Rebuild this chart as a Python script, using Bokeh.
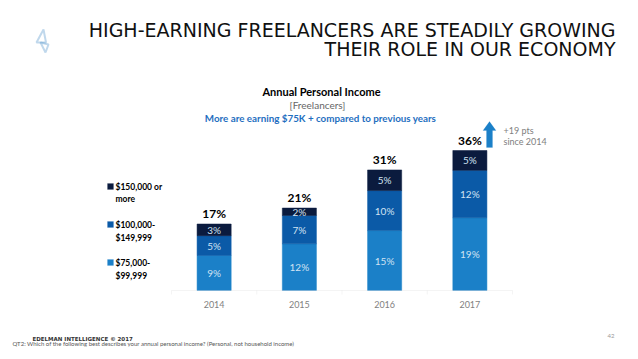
from bokeh.plotting import figure
from bokeh.models import (Range1d, FixedTicker, Label, LabelSet, ColumnDataSource, PolyAnnotation)
from bokeh.core.properties import value
from bokeh.embed import file_html
from bokeh.resources import INLINE

# ---------------- data ----------------
years = ["2014", "2015", "2016", "2017"]
band_75k = [9.0, 12.0, 15.4, 18.7]      # $75,000-$99,999
band_100k = [5.1, 7.3, 10.3, 12.2]      # $100,000-$149,999
band_150k = [3.0, 1.9, 5.3, 5.1]        # $150,000 or more
label_75k = ["9%", "12%", "15%", "19%"]
label_100k = ["5%", "7%", "10%", "12%"]
label_150k = ["3%", "2%", "5%", "5%"]
total_labels = ["17%", "21%", "31%", "36%"]
legend_lines = [["$150,000 or", "more"], ["$100,000-", "$149,999"], ["$75,000-", "$99,999"]]
series = ["b75", "b100", "b150"]
colors = ["#1b80c8", "#0b5aa7", "#0b1b3e"]

# ---------------- layout constants ----------------
W, H = 638, 359
AXIS_PANEL = 13                 # reserved strip below the frame for the axis panel
HF = H - AXIS_PANEL             # frame height (frame spans the rest of the canvas)
AX_LEFT, AX_RIGHT = 171, 512    # pixel extent of the category axis
BASE = 290                      # pixel y of the baseline
PX = 140 / 36                   # pixels per percentage point
CAT = (AX_RIGHT - AX_LEFT) / len(years)

x_range = Range1d(-AX_LEFT / CAT, (W - AX_LEFT) / CAT)
y_range = Range1d(-(HF - BASE) / PX, BASE / PX)

p = figure(width=W, height=H, x_range=x_range, y_range=y_range,
           output_backend="svg", toolbar_location=None,
           min_border_left=0, min_border_right=0, min_border_top=0,
           min_border_bottom=AXIS_PANEL, y_axis_location=None)
p.outline_line_color = None
p.grid.visible = False
p.background_fill_color = "white"
p.border_fill_color = "white"

xpos = [i + 0.5 for i in range(len(years))]
src = ColumnDataSource(dict(x=xpos, b75=band_75k, b100=band_100k, b150=band_150k))
p.vbar_stack(series, x="x", width=0.4, color=colors, source=src, line_width=0.5)

# segment labels
seg_x, seg_y, seg_t = [], [], []
for i in range(len(years)):
    a, b, c = band_75k[i], band_100k[i], band_150k[i]
    seg_x += [xpos[i]] * 3
    seg_y += [a / 2, a + b / 2, a + b + c / 2]
    seg_t += [label_75k[i], label_100k[i], label_150k[i]]
seg_src = ColumnDataSource(dict(x=seg_x, y=seg_y, t=seg_t))
p.add_layout(LabelSet(x="x", y="y", text="t", source=seg_src, text_align="center",
                      text_baseline="middle", text_color="#d2e3f3",
                      text_font=value("Lato"), text_font_size="10px"))

tot_src = ColumnDataSource(dict(x=xpos, y=[a + b + c for a, b, c in zip(band_75k, band_100k, band_150k)],
                                t=total_labels))
p.add_layout(LabelSet(x="x", y="y", text="t", source=tot_src, text_align="center",
                      text_baseline="alphabetic", y_offset=6, text_color="black",
                      text_font=value("Lato"), text_font_style="bold", text_font_size="12px"))

# x axis: labels only, drawn just under the baseline
ax = p.xaxis[0]
ax.ticker = FixedTicker(ticks=xpos)
ax.major_label_overrides = {x: y for x, y in zip(xpos, years)}
ax.fixed_location = -10 / PX
ax.axis_line_color = None
ax.major_tick_out = 0
ax.major_tick_in = 0
ax.minor_tick_line_color = None
ax.major_label_standoff = 0
ax.major_label_text_color = "#7f7f7f"
ax.major_label_text_font = "Lato"
ax.major_label_text_font_size = "9px"

# baseline and category-boundary ticks
p.add_layout(PolyAnnotation(xs=[0, len(years)], ys=[0, 0], fill_alpha=0,
                            line_color="#d9d9d9", line_width=1))
for k in range(len(years) + 1):
    p.add_layout(PolyAnnotation(xs=[k, k], ys=[0, -4 / PX], fill_alpha=0,
                                line_color="#d9d9d9", line_width=1))

# ---------------- decorations (screen units; frame covers the canvas) -------------
def sx(X):
    return X

def sy(Y):
    return HF - Y

def txt(text, X, Y, size, color, font, style="normal", align="left", baseline="middle"):
    p.add_layout(Label(x=sx(X), y=sy(Y), x_units="screen", y_units="screen", text=text,
                       text_font_size=f"{size}px", text_color=color, text_font=font,
                       text_font_style=style, text_align=align, text_baseline=baseline))

def poly(pts, fill=None, line=None, lw=1.0):
    p.add_layout(PolyAnnotation(xs=[sx(x) for x, _ in pts], ys=[sy(y) for _, y in pts],
                                xs_units="screen", ys_units="screen",
                                fill_color=fill, fill_alpha=1.0 if fill else 0.0,
                                line_color=line, line_width=lw))

# slide title
txt("HIGH-EARNING FREELANCERS ARE STEADILY GROWING", 615, 29.5, 19, "#111111", "DejaVu Sans", align="right")
txt("THEIR ROLE IN OUR ECONOMY", 615, 48.5, 19, "#111111", "DejaVu Sans", align="right")

# chart titles
txt("Annual Personal Income", 321, 91, 11, "black", "Lato", "bold", align="center")
txt("[Freelancers]", 317, 104, 10, "#666666", "Lato", align="center")
txt("More are earning $75K + compared to previous years", 320, 117, 9.8, "#1f6fbf", "Lato",
    "bold", align="center")

# legend
legend_y = [(186, 198), (224, 237), (262, 275)]
legend_colors = [colors[2], colors[1], colors[0]]
for (l1, l2), (y1, y2), c in zip(legend_lines, legend_y, legend_colors):
    poly([(107, y1 - 3), (113, y1 - 3), (113, y1 + 3), (107, y1 + 3)], fill=c, line=c, lw=0.5)
    txt(l1, 115, y1, 8.5, "black", "Lato", "bold")
    txt(l2, 115, y2, 8.5, "black", "Lato", "bold")

# arrow + note
poly([(489, 121), (495.5, 130), (492, 130), (492, 147), (486, 147), (486, 130), (482.5, 130)],
     fill="#1b80c8", line="#1b80c8", lw=0.5)
txt("+19 pts", 503, 130, 9, "#808080", "Lato")
txt("since 2014", 503, 141, 9, "#808080", "Lato")

# logo
poly([(43, 29), (45.5, 42), (36, 42)], line="#2f7fbf", lw=2)
poly([(40, 42), (48, 44), (45, 52)], line="#2f7fbf", lw=2)

# footer
txt("EDELMAN INTELLIGENCE © 2017", 32, 338, 5.5, "#333333", "DejaVu Sans", "bold")
txt("QT2: Which of the following best describes your annual personal income? (Personal, not household income)",
    12, 343, 6, "#555555", "Lato")
txt("42", 614, 335, 6, "#999999", "Lato", align="right")

open("out.html", "w").write(file_html(p, INLINE))
